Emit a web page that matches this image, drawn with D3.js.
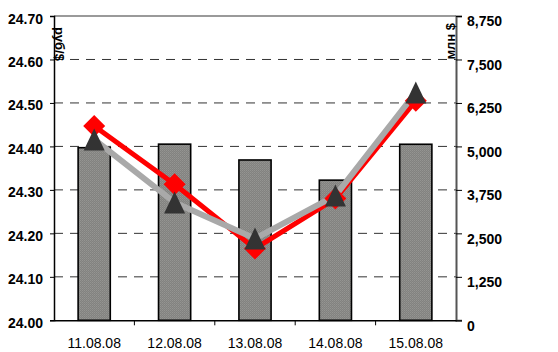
<!DOCTYPE html>
<html><head><meta charset="utf-8">
<script src="https://cdn.jsdelivr.net/npm/d3@7"></script>
<style>
html,body{margin:0;padding:0;background:#fff;}
svg{display:block;font-family:"Liberation Sans",Arial,sans-serif;}
</style></head>
<body>
<svg id="chart" width="558" height="352"></svg>
<script>
const categories = ["11.08.08","12.08.08","13.08.08","14.08.08","15.08.08"];
const volumeMln = [4963, 5065, 4610, 4030, 5062];          // bars, right axis (млн $)
const rateRed = [24.447, 24.313, 24.165, 24.280, 24.505];   // red diamonds, left axis
const rateGray = [24.416, 24.271, 24.188, 24.287, 24.524];  // gray triangles, left axis
const leftTicks = [24.00,24.10,24.20,24.30,24.40,24.50,24.60,24.70];
const rightTicks = [0,1250,2500,3750,5000,6250,7500,8750];
const leftTitle = "руб/$";
const rightTitle = "млн $";

const svg = d3.select("#chart");
const L = 54, R = 456, T = 16, B = 320.3;

const x = d3.scaleBand().domain(categories).range([L, R]).paddingInner(0).paddingOuter(0);
const yL = d3.scaleLinear().domain([24.0, 24.7]).range([B, T]);
const yR = d3.scaleLinear().domain([0, 8750]).range([B, T]);

// pattern for bars
const defs = svg.append("defs");
const pat = defs.append("pattern").attr("id","dots").attr("width",2).attr("height",2).attr("patternUnits","userSpaceOnUse");
pat.append("rect").attr("width",2).attr("height",2).attr("fill","#828280");
pat.append("rect").attr("width",1).attr("height",1).attr("fill","#959592");
pat.append("rect").attr("x",1).attr("y",1).attr("width",1).attr("height",1).attr("fill","#8d8d8a");

// gridlines
svg.append("g").selectAll("line").data(leftTicks.filter(d => d > 24.0 && d < 24.7)).join("line")
  .attr("x1", L).attr("x2", R).attr("y1", d => yL(d)).attr("y2", d => yL(d))
  .attr("stroke", "#333").attr("stroke-width", 1).attr("stroke-dasharray", "9,7");
// top border
svg.append("line").attr("x1", L).attr("x2", R).attr("y1", yL(24.7)).attr("y2", yL(24.7))
  .attr("stroke", "#9a9a9a").attr("stroke-width", 2);

// bars
const bw = x.bandwidth() * 0.4;
svg.append("g").selectAll("rect").data(categories).join("rect")
  .attr("x", d => x(d) + (x.bandwidth() - bw) / 2)
  .attr("y", (d, i) => yR(volumeMln[i]))
  .attr("width", bw)
  .attr("height", (d, i) => yR(0) - yR(volumeMln[i]))
  .attr("fill", "url(#dots)").attr("stroke", "#000").attr("stroke-width", 1.6);

// axes
const axL = d3.axisLeft(yL).tickValues(leftTicks).tickFormat(d3.format(".2f")).tickSize(4).tickPadding(7);
const gL = svg.append("g").attr("transform", `translate(${L},0)`).call(axL);
gL.select(".domain").attr("stroke", "#000").attr("stroke-width", 1.5);
gL.selectAll(".tick line").attr("stroke", "#000");
gL.selectAll(".tick text").attr("font-size", 14).attr("font-weight", "bold").attr("fill", "#000")
  .attr("font-family", '"Liberation Sans",Arial,sans-serif').attr("dy", "0.5em");

const axR = d3.axisRight(yR).tickValues(rightTicks).tickFormat(d3.format(",")).tickSize(6).tickPadding(5);
const gR = svg.append("g").attr("transform", `translate(${R},0)`).call(axR);
gR.select(".domain").attr("stroke", "#555").attr("stroke-width", 2);
gR.selectAll(".tick line").attr("stroke", "#000");
gR.selectAll(".tick text").attr("font-size", 14).attr("font-weight", "bold").attr("fill", "#000")
  .attr("font-family", '"Liberation Sans",Arial,sans-serif').attr("dy", "0.7em");

const axB = d3.axisBottom(x).tickSize(0).tickPadding(18);
const gB = svg.append("g").attr("transform", `translate(0,${B})`).call(axB);
gB.select(".domain").attr("stroke", "#000").attr("stroke-width", 1.5);
gB.selectAll(".tick text").attr("font-size", 14).attr("fill", "#000")
  .attr("font-family", '"Liberation Sans",Arial,sans-serif');
// category separators
gB.append("g").selectAll("line").data(categories.slice(1)).join("line")
  .attr("x1", d => x(d)).attr("x2", d => x(d)).attr("y1", 0).attr("y2", 5)
  .attr("stroke", "#000").attr("stroke-width", 1);

// axis titles
svg.append("text").attr("transform", `translate(${L + 0.5},${T + 11}) rotate(90)`)
  .attr("font-size", 13).attr("font-weight", "bold").attr("text-anchor", "start").text(leftTitle);
svg.append("text").attr("transform", `translate(${R - 1},${T + 7}) rotate(-90)`)
  .attr("font-size", 13).attr("font-weight", "bold").attr("text-anchor", "end").text(rightTitle);

const cx = d => x(d) + x.bandwidth() / 2;
const line = d3.line().x(d => cx(d[0])).y(d => yL(d[1]));
const redPts = categories.map((c, i) => [c, rateRed[i]]);
const grayPts = categories.map((c, i) => [c, rateGray[i]]);

svg.append("path").attr("d", line(redPts)).attr("fill", "none")
  .attr("stroke", "#ff0000").attr("stroke-width", 5).attr("stroke-linejoin", "round");
svg.append("path").attr("d", line(grayPts)).attr("fill", "none")
  .attr("stroke", "#a9a9a9").attr("stroke-width", 6).attr("stroke-linejoin", "round");

// diamonds
svg.append("g").selectAll("path").data(redPts).join("path")
  .attr("d", d => { const px = cx(d[0]), py = yL(d[1]), s = 11;
    return `M${px},${py - s}L${px + s},${py}L${px},${py + s}L${px - s},${py}Z`; })
  .attr("fill", "#ff0000");

// triangles
svg.append("g").selectAll("path").data(grayPts).join("path")
  .attr("d", d => { const px = cx(d[0]), py = yL(d[1]), h = 11, w = 10.5;
    return `M${px},${py - h}L${px + w},${py + h}L${px - w},${py + h}Z`; })
  .attr("fill", "#333333");
</script>
</body></html>
